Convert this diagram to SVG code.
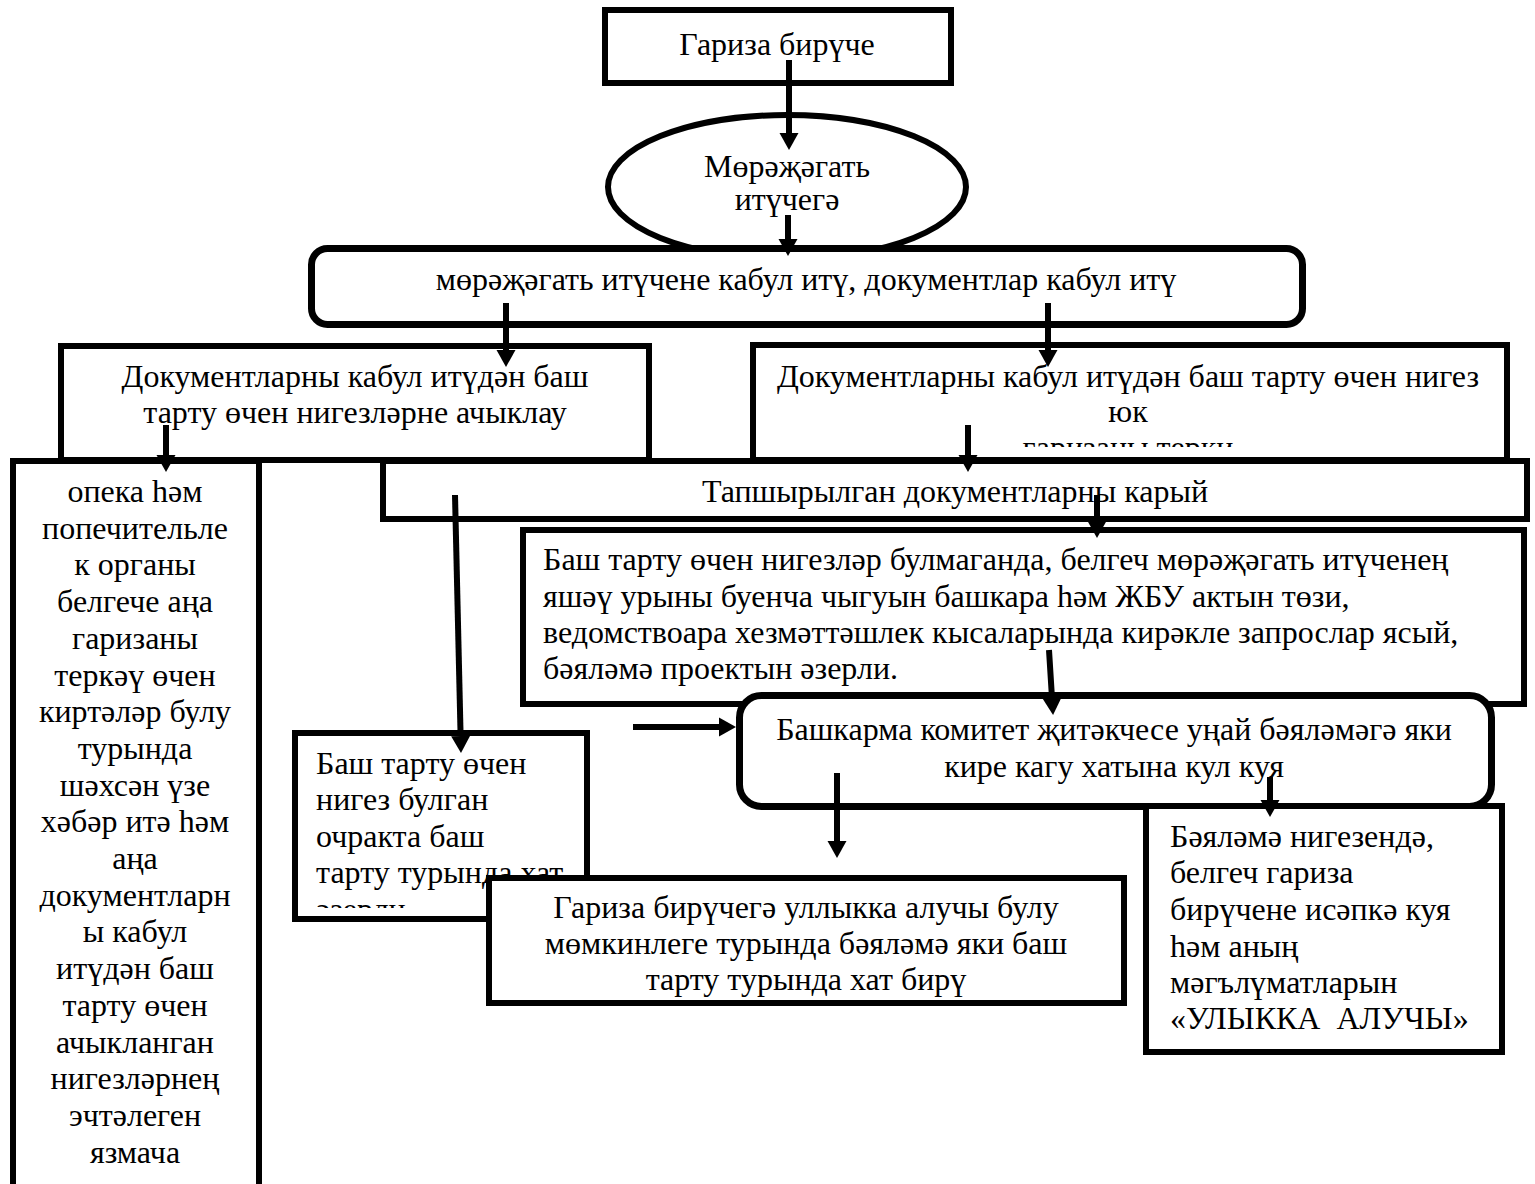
<svg xmlns="http://www.w3.org/2000/svg" width="1535" height="1184" viewBox="0 0 1535 1184">
<style>
.b{fill:#fff;stroke:#000;stroke-width:6}
.r{fill:#fff;stroke:#000;stroke-width:7}
text{font-family:"Liberation Serif","Times New Roman",serif;font-size:32px;fill:#000}
.c{text-anchor:middle}
.pre{white-space:pre}
.cn line{stroke:#000;stroke-width:6;marker-end:url(#ah)}
</style>
<defs>
<marker id="ah" markerUnits="userSpaceOnUse" markerWidth="18" markerHeight="20" refX="0" refY="9.5" orient="auto" viewBox="0 0 18 19"><path d="M0,0 L17,9.5 L0,19 z" fill="#000"/></marker>
<clipPath id="clipR"><rect x="750" y="340" width="760" height="107"/></clipPath>
<clipPath id="clipB"><rect x="295" y="733" width="292" height="175"/></clipPath>
</defs>
<rect width="1535" height="1184" fill="#fff"/>
<g id="n1"><rect class="b" x="605" y="10" width="346" height="73"/><text class="c" x="777" y="55">Гариза бирүче</text></g>
<g id="n2"><ellipse class="b" cx="787" cy="187" rx="179" ry="72"/><text class="c" x="787" y="177">Мөрәҗәгать</text><text class="c" x="787" y="210">итүчегә</text></g>
<g id="n3"><rect class="r" x="311.5" y="248.5" width="991" height="76" rx="16"/><text class="c" x="806" y="290">мөрәҗәгать итүчене кабул итү, документлар кабул итү</text></g>
<g id="n4"><rect class="b" x="61" y="346" width="588" height="114"/><text class="c" x="355" y="387">Документларны кабул итүдән баш</text><text class="c" x="355" y="423">тарту өчен нигезләрне ачыклау</text></g>
<g id="n5"><rect class="b" x="753" y="345" width="754" height="115"/><text class="c" x="1128" y="387">Документларны кабул итүдән баш тарту өчен нигез</text><text class="c" x="1128" y="422">юк</text><text class="c" x="1128" y="458" clip-path="url(#clipR)">гаризаны терки</text></g>
<g id="n6"><rect class="b" x="13" y="461" width="246" height="740"/>
<text class="c" x="135" y="502">опека һәм</text>
<text class="c" x="135" y="538.7">попечительле</text>
<text class="c" x="135" y="575.4">к органы</text>
<text class="c" x="135" y="612.1">белгече аңа</text>
<text class="c" x="135" y="648.8">гаризаны</text>
<text class="c" x="135" y="685.5">теркәү өчен</text>
<text class="c" x="135" y="722.2">киртәләр булу</text>
<text class="c" x="135" y="758.9">турында</text>
<text class="c" x="135" y="795.6">шәхсән үзе</text>
<text class="c" x="135" y="832.3">хәбәр итә һәм</text>
<text class="c" x="135" y="869">аңа</text>
<text class="c" x="135" y="905.7">документларн</text>
<text class="c" x="135" y="942.4">ы кабул</text>
<text class="c" x="135" y="979.1">итүдән баш</text>
<text class="c" x="135" y="1015.8">тарту өчен</text>
<text class="c" x="135" y="1052.5">ачыкланган</text>
<text class="c" x="135" y="1089.2">нигезләрнең</text>
<text class="c" x="135" y="1125.9">эчтәлеген</text>
<text class="c" x="135" y="1162.6">язмача</text>
</g>
<g id="n7"><rect class="b" x="383" y="461" width="1144" height="58"/><text class="c" x="955" y="502">Тапшырылган документларны карый</text></g>
<g id="n8"><rect class="b" x="523" y="530" width="1001" height="174"/>
<text x="543" y="570">Баш тарту өчен нигезләр булмаганда, белгеч мөрәҗәгать итүченең</text>
<text x="543" y="607">яшәү урыны буенча чыгуын башкара һәм ЖБУ актын төзи,</text>
<text x="543" y="643">ведомствоара хезмәттәшлек кысаларында кирәкле запрослар ясый,</text>
<text x="543" y="679">бәяләмә проектын әзерли.</text></g>
<g id="n9"><rect class="r" x="739.5" y="695.5" width="752" height="111" rx="22"/><text class="c" x="1114" y="740">Башкарма комитет җитәкчесе уңай бәяләмәгә яки</text><text class="c" x="1114" y="777">кире кагу хатына кул куя</text></g>
<g id="n10"><rect class="b" x="295" y="733" width="292" height="186"/>
<text x="316" y="774">Баш тарту өчен</text>
<text x="316" y="810">нигез булган</text>
<text x="316" y="847">очракта баш</text>
<text x="316" y="883">тарту турында хат</text>
<text x="316" y="920" clip-path="url(#clipB)">әзерли</text></g>
<g id="n11"><rect class="b" x="489" y="878" width="635" height="125"/><text class="c" x="806" y="918">Гариза бирүчегә уллыкка алучы булу</text><text class="c" x="806" y="954">мөмкинлеге турында бәяләмә яки баш</text><text class="c" x="806" y="990">тарту турында хат бирү</text></g>
<g id="n12"><rect class="b" x="1146" y="806" width="356" height="246"/>
<text x="1170" y="847">Бәяләмә нигезендә,</text>
<text x="1170" y="883">белгеч гариза</text>
<text x="1170" y="920">бирүчене исәпкә куя</text>
<text x="1170" y="957">һәм аның</text>
<text x="1170" y="993">мәгълүматларын</text>
<text class="pre" x="1170" y="1029" xml:space="preserve">«УЛЫККА  АЛУЧЫ»</text></g>
<g id="connectors" class="cn">
<line x1="789" y1="60" x2="789" y2="133"/>
<line x1="788" y1="215" x2="788" y2="239"/>
<line x1="506" y1="303" x2="506" y2="350"/>
<line x1="1048" y1="303" x2="1048" y2="350"/>
<line x1="968" y1="425" x2="968" y2="455"/>
<line x1="166" y1="425" x2="166" y2="455"/>
<line x1="455" y1="495" x2="460.6" y2="736"/>
<line x1="837" y1="773" x2="837" y2="841"/>
<line x1="1097" y1="495" x2="1097" y2="521"/>
<line x1="1049" y1="650" x2="1052" y2="698"/>
<line x1="633" y1="727" x2="719" y2="727"/>
<line x1="1270" y1="777" x2="1270" y2="800"/>
</g>
</svg>
